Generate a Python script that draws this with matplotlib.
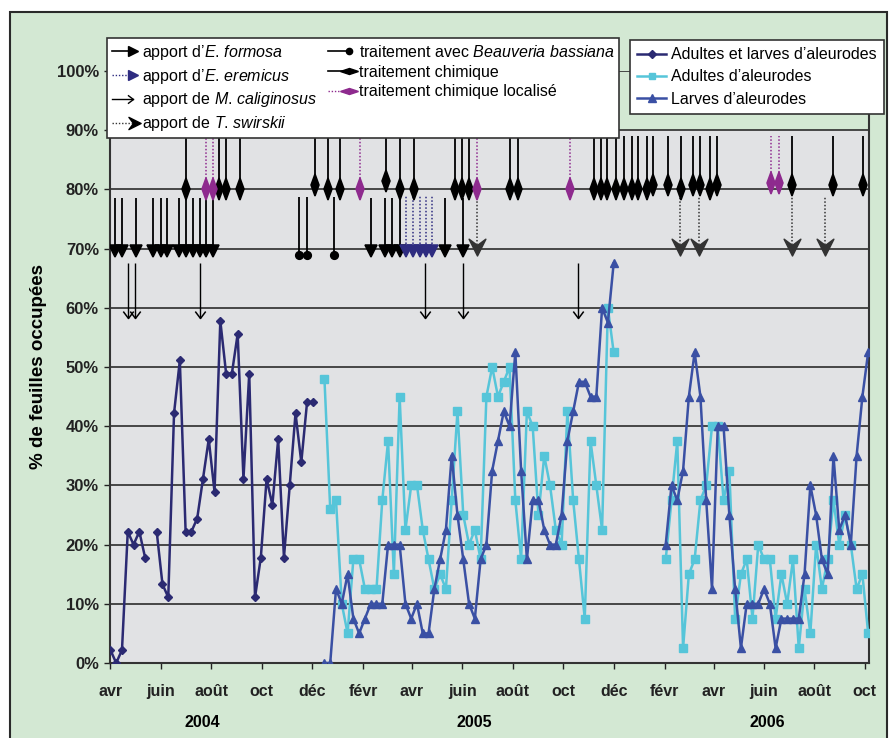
import matplotlib
matplotlib.use("Agg")
import matplotlib.pyplot as plt
import matplotlib.dates as mdates
import numpy as np
import pandas as pd
from matplotlib.legend_handler import HandlerBase
from matplotlib.lines import Line2D
from matplotlib.markers import MarkerStyle
from matplotlib.patches import Rectangle
from matplotlib.path import Path
from matplotlib.ticker import FuncFormatter, MultipleLocator
from matplotlib.transforms import Affine2D, blended_transform_factory

plt.rcParams.update(
    {
        "font.family": "Liberation Sans",
        "mathtext.fontset": "custom",
        "mathtext.rm": "Liberation Sans",
        "mathtext.it": "Liberation Sans:italic",
        "mathtext.bf": "Liberation Sans:bold",
    }
)

# ---------------------------------------------------------------- data
START = pd.Timestamp("2004-04-01")      # weekly counts, week 0 = this date
END = START + pd.Timedelta(days=918)

# adults + larvae, weeks 0..35 (week 7 missing)
MIXED_FIRST_WEEK = 0
MIXED = [2.2, 0, 2.2, 22.2, 20, 22.2, 17.8, np.nan, 22.2, 13.3, 11.1, 42.2,
         51.1, 22.2, 22.2, 24.4, 31.1, 37.8, 28.9, 57.8, 48.9, 48.9, 55.6,
         31.1, 48.9, 11.1, 17.8, 31.1, 26.7, 37.8, 17.8, 30.0, 42.2, 33.9,
         44.1, 44.1]

# adults / larvae counted separately, two campaigns
ADULTS_2005_FIRST_WEEK = 37
ADULTS_2005 = [48, 26, 27.5, 10, 5, 17.5, 17.5, 12.5, 12.5, 12.5, 27.5, 37.5,
               15, 45, 22.5, 30, 30, 22.5, 17.5, 12.5, 15, 12.5, 27.5, 42.5,
               25, 20, 22.5, 17.5, 45, 50, 45, 47.5, 50, 27.5, 17.5, 42.5, 40,
               25, 35, 30, 22.5, 20, 42.5, 27.5, 17.5, 7.5, 37.5, 30, 22.5,
               60, 52.5]
LARVAE_2005 = [0, 0, 12.5, 10, 15, 7.5, 5, 7.5, 10, 10, 10, 20, 20, 20, 10,
               7.5, 10, 5, 5, 12.5, 17.5, 22.5, 35, 25, 17.5, 10, 7.5, 17.5,
               20, 32.5, 37.5, 42.5, 40, 52.5, 32.5, 17.5, 27.5, 27.5, 22.5,
               20, 20, 25, 37.5, 42.5, 47.5, 47.5, 45, 45, 60, 57.5, 67.5]

ADULTS_2006_FIRST_WEEK = 96
ADULTS_2006 = [17.5, 27.5, 37.5, 2.5, 15, 17.5, 27.5, 30, 40, 40, 27.5, 32.5,
               7.5, 15, 17.5, 7.5, 20, 17.5, 17.5, 7.5, 15, 10, 17.5, 2.5,
               12.5, 5, 20, 12.5, 17.5, 27.5, 20, 25, 20, 12.5, 15, 5]
LARVAE_2006 = [20, 30, 27.5, 32.5, 45, 52.5, 45, 27.5, 12.5, 40, 40, 25, 12.5,
               2.5, 10, 10, 10, 12.5, 10, 2.5, 7.5, 7.5, 7.5, 7.5, 15, 30, 25,
               17.5, 15, 35, 22.5, 25, 20, 35, 45, 52.5]

# interventions
FORMOSA = ["2004-04-06", "2004-04-15", "2004-05-02", "2004-05-22", "2004-06-01",
           "2004-06-09", "2004-06-23", "2004-07-01", "2004-07-10", "2004-07-18",
           "2004-07-26", "2004-08-03", "2005-02-10", "2005-02-27", "2005-03-08",
           "2005-03-18", "2005-05-11", "2005-06-02"]
EREMICUS = ["2005-03-25", "2005-04-02", "2005-04-11", "2005-04-18", "2005-04-25"]
CALIGINOSUS = ["2004-04-22", "2004-05-01", "2004-07-18", "2005-04-17",
               "2005-06-02", "2005-10-19"]
SWIRSKII = ["2005-06-19", "2006-02-19", "2006-03-14", "2006-07-05", "2006-08-14"]
BEAUVERIA = ["2004-11-15", "2004-11-25", "2004-12-28"]
CHEM = ["2004-07-01", "2004-08-11", "2004-08-19", "2004-09-05", "2004-12-04",
        "2004-12-20", "2005-01-04", "2005-03-01", "2005-03-18", "2005-04-03",
        "2005-05-23", "2005-06-01", "2005-06-09", "2005-07-29", "2005-08-07",
        "2005-11-07", "2005-11-16", "2005-11-23", "2005-12-04", "2005-12-13",
        "2005-12-23", "2005-12-31", "2006-01-10", "2006-01-18", "2006-02-05",
        "2006-02-21", "2006-03-07", "2006-03-15", "2006-03-28", "2006-04-05",
        "2006-07-05", "2006-08-24", "2006-09-29"]
CHEM_LEVEL = [80, 80, 80, 80, 80.8, 80, 80, 81.4, 80, 80, 80, 80, 80, 80, 80,
              80, 80, 80, 80, 80, 80, 80, 80, 80.8, 80.8, 80, 80.8, 80.8, 80,
              80.8, 80.8, 80.8, 80.8]
CHEM_LOCAL = ["2004-07-26", "2004-08-03", "2005-01-28", "2005-06-19",
              "2005-10-09", "2006-06-09", "2006-06-19"]
CHEM_LOCAL_LEVEL = [80, 80, 80, 80, 80, 81, 81]

MONTH_NAMES = {2: "févr", 4: "avr", 6: "juin", 8: "août", 10: "oct", 12: "déc"}
YEARS = ["2004", "2005", "2006"]
YEAR_CENTERS = ["2004-07-21", "2005-06-15", "2006-06-05"]

# ---------------------------------------------------------------- style
GREEN = "#D3E8D3"
PLOT_GRAY = "#E1E2E4"
GRID = "#3A3A3A"
NAVY = "#2B2A72"
CYAN = "#56C5D9"
BLUE = "#3A50A4"
PURPLE = "#8E2A8E"
EREM_BLUE = "#2E2C80"
DOTS = (0, (1, 1.3))
LEGEND_FS = 11.5

THIN_D = MarkerStyle("d", transform=Affine2D().scale(0.55, 1.0))
THIN_D_H = MarkerStyle("d", transform=Affine2D().scale(0.6, 1.0).rotate_deg(90))
CHEVRON = Path([(0, -1), (-0.8, 0.6), (0, 0), (0.8, 0.6), (0, -1)],
               [Path.MOVETO, Path.LINETO, Path.LINETO, Path.LINETO, Path.CLOSEPOLY])
OPEN_HEAD = Path([(-0.75, 1), (0, 0), (0.75, 1)],
                 [Path.MOVETO, Path.LINETO, Path.LINETO])
CHEVRON_R = MarkerStyle(CHEVRON, transform=Affine2D().rotate_deg(90))
OPEN_HEAD_R = MarkerStyle(OPEN_HEAD, transform=Affine2D().rotate_deg(90))


def week_dates(first_week, n):
    return START + pd.to_timedelta(7 * (first_week + np.arange(n)), unit="D")


def draw_events(ax, dates, y_mark, y_top, color, ls, marker, ms, mfc=None, lw=1.3):
    d = pd.to_datetime(dates)
    y_mark = np.broadcast_to(np.asarray(y_mark, dtype=float), (len(d),))
    ax.vlines(d, y_mark, y_top, colors=color, linestyles=ls, linewidth=lw, zorder=3)
    ax.plot(d, y_mark, ls="none", marker=marker, ms=ms, color=color,
            mfc=color if mfc is None else mfc, mec=color, mew=1.1, zorder=4)


class EndMarkerHandler(HandlerBase):
    """Legend key: a line with its marker at the right end."""

    def __init__(self, line_kw, marker_kw):
        super().__init__()
        self.line_kw = line_kw
        self.marker_kw = marker_kw

    def create_artists(self, legend, orig_handle, xdescent, ydescent,
                       width, height, fontsize, trans):
        y = (height - ydescent) / 2
        x0, x1 = -xdescent, width - xdescent
        line = Line2D([x0, x1 - 4], [y, y], **self.line_kw)
        mark = Line2D([x1 - 4], [y], linestyle="none", **self.marker_kw)
        line.set_transform(trans)
        mark.set_transform(trans)
        return [line, mark]


def species(genus, name):
    # italic "G. name"; the period stays outside math mode to avoid its extra gap
    return f"$\\mathit{{{genus}}}$. $\\mathit{{{name}}}$"


# ---------------------------------------------------------------- figure
fig = plt.figure(figsize=(8.89, 7.38), dpi=100, facecolor="white")
fig.add_artist(Rectangle((10 / 889, -0.02), 877 / 889, 1 - 12 / 738 + 0.02,
                         transform=fig.transFigure, facecolor=GREEN,
                         edgecolor="#2A2A2A", linewidth=1.5, zorder=-1))

ax = fig.add_axes([110 / 889, 75 / 738, 759 / 889, 592 / 738])
ax.patch.set_visible(False)
ax.axhspan(0, 90, color=PLOT_GRAY, zorder=0.1, lw=0)

# series
ax.plot(week_dates(MIXED_FIRST_WEEK, len(MIXED)), MIXED, color=NAVY, lw=1.8,
        marker="D", ms=4.2, zorder=5)
for first, vals in ((ADULTS_2005_FIRST_WEEK, ADULTS_2005),
                    (ADULTS_2006_FIRST_WEEK, ADULTS_2006)):
    ax.plot(week_dates(first, len(vals)), vals, color=CYAN, lw=1.8,
            marker="s", ms=5.5, zorder=6)
for first, vals in ((ADULTS_2005_FIRST_WEEK, LARVAE_2005),
                    (ADULTS_2006_FIRST_WEEK, LARVAE_2006)):
    ax.plot(week_dates(first, len(vals)), vals, color=BLUE, lw=1.8,
            marker="^", ms=6, zorder=7)

# interventions
draw_events(ax, CHEM, CHEM_LEVEL, 89.0, "black", "solid", THIN_D, 11)
draw_events(ax, CHEM_LOCAL, CHEM_LOCAL_LEVEL, 89.0, PURPLE, DOTS, THIN_D, 11, lw=1.1)
draw_events(ax, FORMOSA, 69.6, 78.5, "black", "solid", "v", 8)
draw_events(ax, EREMICUS, 69.6, 78.9, EREM_BLUE, DOTS, "v", 8, lw=1.1)
draw_events(ax, BEAUVERIA, 69.0, 78.8, "black", "solid", "o", 5.5)
draw_events(ax, CALIGINOSUS, 58.3, 67.5, "black", "solid", OPEN_HEAD, 10, mfc="none", lw=1.0)
draw_events(ax, SWIRSKII, 70.6, 78.8, "#333333", DOTS, CHEVRON, 15, lw=1.1)

# axes
ax.set_xlim(START - pd.Timedelta(days=0.5), END)
ax.set_ylim(0, 100)
ax.yaxis.set_major_locator(MultipleLocator(10))
ax.yaxis.set_major_formatter(FuncFormatter(lambda v, _: f"{v:.0f}%"))
ax.xaxis.set_major_locator(mdates.MonthLocator(bymonth=list(MONTH_NAMES)))
ax.xaxis.set_major_formatter(FuncFormatter(lambda v, _: MONTH_NAMES[mdates.num2date(v).month]))
ax.yaxis.grid(True, color=GRID, linewidth=1.3, zorder=0.5)
ax.xaxis.grid(False)
ax.set_axisbelow(True)
ax.tick_params(axis="x", direction="out", length=4, width=1, pad=11, labelsize=11.5, colors="#222222")
ax.tick_params(axis="y", direction="out", length=4, width=1, pad=4, labelsize=12, colors="#222222")
for lbl in ax.get_xticklabels() + ax.get_yticklabels():
    lbl.set_fontweight("bold")
for side in ("left", "bottom", "right"):
    ax.spines[side].set_color("#333333")
    ax.spines[side].set_linewidth(1.5)
ax.spines["top"].set_visible(False)

ax.set_ylabel("% de feuilles occupées", fontsize=13.5, fontweight="bold")
ax.yaxis.set_label_coords(-0.083, 0.5)

year_tr = blended_transform_factory(ax.transData, ax.transAxes)
for year, center in zip(YEARS, YEAR_CENTERS):
    ax.text(mdates.date2num(pd.Timestamp(center)), -0.0997, year, transform=year_tr,
            ha="center", va="center", fontsize=11.5, fontweight="bold")

# legend of interventions
key_specs = [
    ("apport d’" + species("E", "formosa"),
     dict(color="black", lw=1.2), dict(marker=">", ms=7, color="black")),
    ("apport d’" + species("E", "eremicus"),
     dict(color=EREM_BLUE, lw=1.0, ls=DOTS), dict(marker=">", ms=7, color=EREM_BLUE)),
    ("apport de " + species("M", "caliginosus"),
     dict(color="black", lw=1.0), dict(marker=OPEN_HEAD_R, ms=8, color="black", mfc="none", mew=1.0)),
    ("apport de " + species("T", "swirskii"),
     dict(color="#333333", lw=1.0, ls=DOTS), dict(marker=CHEVRON_R, ms=11, color="black")),
    ("traitement avec $\\mathit{Beauveria}$ $\\mathit{bassiana}$",
     dict(color="black", lw=1.2), dict(marker="o", ms=4.5, color="black")),
    ("traitement chimique",
     dict(color="black", lw=1.2), dict(marker=THIN_D_H, ms=9, color="black")),
    ("traitement chimique localisé",
     dict(color=PURPLE, lw=1.0, ls=DOTS), dict(marker=THIN_D_H, ms=9, color=PURPLE)),
]
key_handles = [Line2D([], []) for _ in key_specs]
key_map = {h: EndMarkerHandler(lk, mk) for h, (_, lk, mk) in zip(key_handles, key_specs)}
leg1 = fig.legend(key_handles, [s[0] for s in key_specs], handler_map=key_map,
                  loc="upper left", bbox_to_anchor=(107 / 889, 1 - 38 / 738),
                  ncol=2, fontsize=LEGEND_FS, frameon=True, fancybox=False,
                  framealpha=1, edgecolor="#333333", handlelength=1.65,
                  handletextpad=0.25, columnspacing=0.7, labelspacing=0.3,
                  borderpad=0.3, borderaxespad=0)
leg1.get_frame().set_linewidth(1.2)

series_handles = [
    Line2D([], [], color=NAVY, lw=1.8, marker="D", ms=4),
    Line2D([], [], color=CYAN, lw=1.8, marker="s", ms=5),
    Line2D([], [], color=BLUE, lw=1.8, marker="^", ms=5.5),
]
series_labels = ["Adultes et larves d’aleurodes", "Adultes d’aleurodes", "Larves d’aleurodes"]
leg2 = fig.legend(series_handles, series_labels, loc="upper left",
                  bbox_to_anchor=(630 / 889, 1 - 40 / 738), fontsize=LEGEND_FS,
                  frameon=True, fancybox=False, framealpha=1, edgecolor="#333333",
                  handlelength=1.8, handletextpad=0.3, labelspacing=0.45,
                  borderpad=0.45, borderaxespad=0)
leg2.get_frame().set_linewidth(1.2)

fig.savefig("out.png", dpi=100, facecolor="white")
